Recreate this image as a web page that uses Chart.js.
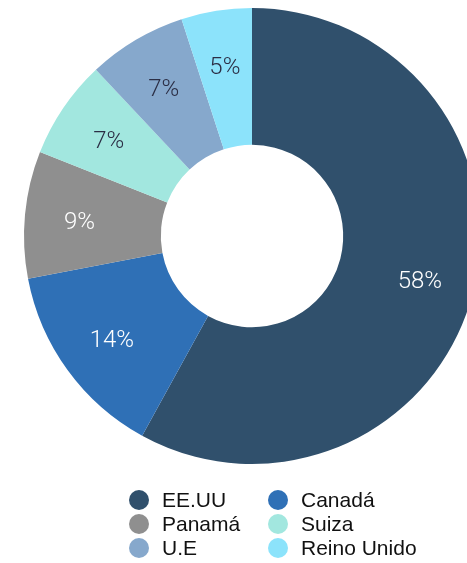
<!DOCTYPE html>
<html>
<head>
<meta charset="utf-8">
<script src="https://cdn.jsdelivr.net/npm/chart.js@4"></script>
<style>
  html, body { margin: 0; padding: 0; background: #fff; overflow: hidden; }
  #wrap { width: 467px; height: 563px; overflow: hidden; position: relative; }
  canvas { position: absolute; left: 0; top: 0; }
</style>
</head>
<body>
<div id="wrap"><canvas id="donut" width="504" height="563"></canvas></div>
<script>
const paises = ['EE.UU', 'Canadá', 'Panamá', 'Suiza', 'U.E', 'Reino Unido'];
const porcentajes = [58, 14, 9, 7, 7, 5];
const colores = ['#30506c', '#2f70b6', '#8f8f8f', '#a2e7df', '#86a8cc', '#8ce3fb'];
const coloresTexto = ['#ffffff', '#ffffff', '#ffffff', '#2b2e45', '#2b2e45', '#2b2e45'];

// porcentajes dentro de cada sector
const etiquetas = {
    id: 'etiquetas',
    afterDatasetsDraw(chart) {
        const c = chart.ctx;
        const arcs = chart.getDatasetMeta(0).data;
        c.save();
        c.font = '300 24px Roboto, "Liberation Sans", sans-serif';
        c.textAlign = 'center';
        c.textBaseline = 'middle';
        arcs.forEach((arc, i) => {
            const p = arc.getProps(['x', 'y', 'startAngle', 'endAngle', 'innerRadius', 'outerRadius']);
            const ang = (p.startAngle + p.endAngle) / 2;
            const r = p.innerRadius + (p.outerRadius - p.innerRadius) * 0.6;
            c.fillStyle = coloresTexto[i];
            c.fillText(porcentajes[i] + '%', p.x + Math.cos(ang) * r, p.y + Math.sin(ang) * r + 3);
        });
        c.restore();
    }
};

// leyenda en dos columnas
const leyenda = {
    id: 'leyenda',
    afterDraw(chart) {
        const c = chart.ctx;
        const ds = chart.data.datasets[0];
        c.save();
        c.font = '21px "Liberation Sans", Arial, sans-serif';
        c.textAlign = 'left';
        c.textBaseline = 'middle';
        chart.data.labels.forEach((lab, i) => {
            const x = 139 + (i % 2) * 139;
            const y = 500 + Math.floor(i / 2) * 24;
            c.fillStyle = ds.backgroundColor[i];
            c.beginPath();
            c.arc(x, y, 10, 0, Math.PI * 2);
            c.fill();
            c.fillStyle = '#111111';
            c.fillText(lab, x + 23, y + 1);
        });
        c.restore();
    }
};

new Chart(document.getElementById('donut'), {
    type: 'doughnut',
    data: {
        labels: paises,
        datasets: [{
            data: porcentajes,
            backgroundColor: colores,
            borderWidth: 0
        }]
    },
    options: {
        responsive: false,
        animation: false,
        cutout: '40%',
        layout: { padding: { top: 8, bottom: 99, left: 0, right: 0 } },
        plugins: {
            legend: { display: false },
            tooltip: { enabled: false }
        }
    },
    plugins: [etiquetas, leyenda]
});
</script>
</body>
</html>
